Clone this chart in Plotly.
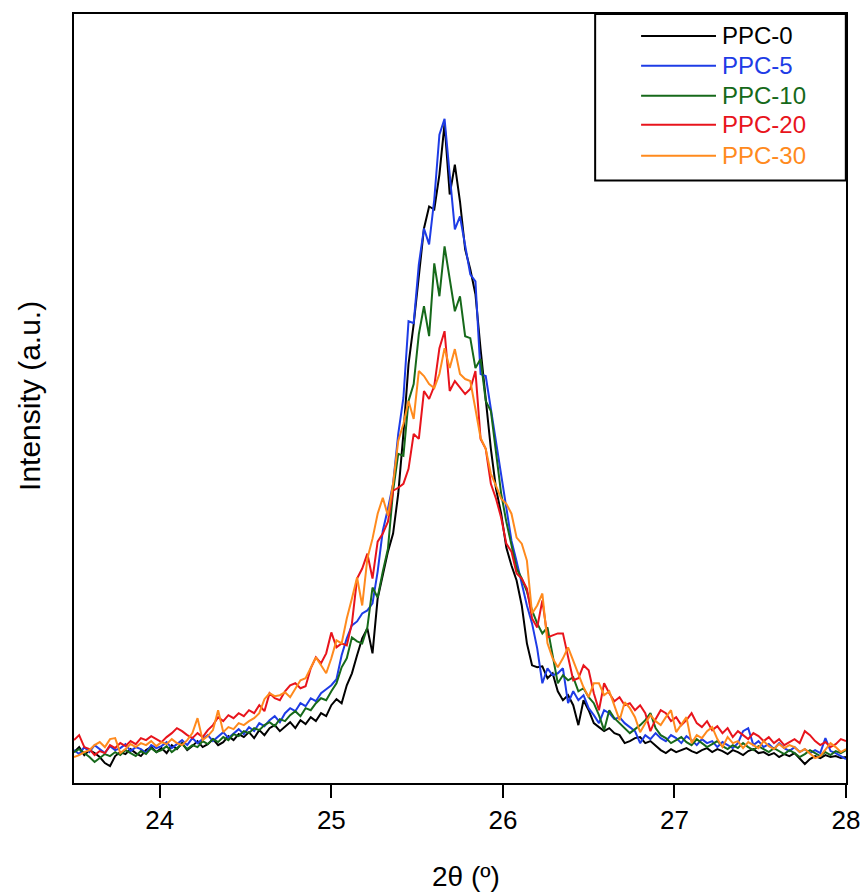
import plotly.graph_objects as go

# 2-theta grid (degrees)
two_theta = [round(23.5 + 0.03 * i, 2) for i in range(151)]

ppc0 = [31, 36, 28, 33, 30, 26, 20, 17, 27, 31, 29, 34, 30, 27, 33, 36, 31,
        35, 30, 38, 34, 40, 33, 37, 42, 36, 39, 44, 38, 41, 47, 43, 49, 46,
        51, 45, 53, 48, 55, 58, 52, 57, 61, 55, 63, 59, 66, 62, 70, 67,
        78, 84, 80, 98, 110, 128, 145, 155, 130, 185, 210, 232, 250, 290, 350, 420, 460,
        508, 556, 578, 575, 610, 661, 590, 620, 583, 535, 515, 490, 435, 385, 335, 295,
        270, 236, 218, 203, 178, 140, 118, 116, 117, 105, 110, 92, 83, 88, 78, 58, 83,
        73, 60, 56, 52, 55, 50, 48, 40, 42, 45, 46, 40, 42, 37, 33, 30, 34, 31, 33, 35,
        32, 30, 33, 35, 31, 34, 32, 29, 33, 31, 28, 32, 34, 30, 31, 28, 30, 26, 29, 27,
        30, 25, 19, 24, 27, 25, 28, 26, 27, 25, 26]

ppc5 = [33, 29, 36, 31, 38, 34, 30, 37, 33, 35, 39, 32, 36, 34, 30, 38, 35,
        37, 41, 35, 39, 43, 38, 45, 40, 44, 48, 42, 47, 51, 45, 50, 54, 49,
        56, 52, 60, 57, 63, 67, 61, 70, 75, 72, 80, 77, 85, 82, 90, 94,
        98, 104, 128, 145, 158, 162, 170, 173, 180, 212, 253, 275, 300, 350, 386, 463, 461,
        520, 556, 540, 585, 650, 666, 610, 555, 568, 540, 510, 503, 410, 408, 375, 340,
        306, 272, 243, 222, 200, 178, 160, 135, 100, 115, 108, 110, 115, 80, 92, 83, 88,
        75, 68, 60, 73, 70, 64, 66, 60, 56, 52, 40, 48, 44, 50, 45, 42, 48, 45, 40, 47,
        43, 38, 44, 40, 42, 36, 41, 38, 35, 40, 52, 55, 38, 42, 36, 39, 34, 40, 35, 32,
        36, 31, 34, 30, 33, 30, 45, 32, 30, 27, 24]

ppc10 = [31, 34, 30, 26, 21, 25, 29, 27, 31, 28, 33, 30, 27, 32, 29, 35, 31,
         33, 37, 31, 35, 39, 34, 38, 36, 42, 39, 44, 41, 46, 43, 49, 47, 52,
         50, 55, 53, 58, 61, 57, 64, 62, 68, 72, 67, 75, 73, 80, 85, 83,
         92, 100, 116, 125, 146, 142, 140, 156, 196, 186, 212, 235, 293, 330, 328, 383, 400,
         450, 478, 448, 521, 488, 538, 505, 473, 488, 448, 446, 416, 425, 383, 373, 330,
         290, 262, 240, 215, 205, 192, 173, 160, 150, 156, 128, 100, 108, 103, 106, 92, 95,
         86, 80, 68, 53, 73, 65, 60, 56, 50, 54, 58, 63, 70, 55, 48, 45, 40, 43, 46, 41,
         38, 44, 40, 36, 39, 42, 37, 34, 38, 35, 40, 36, 33, 37, 34, 31, 35, 32, 29, 33,
         30, 26, 29, 33, 30, 27, 31, 28, 32, 30, 33]

ppc20 = [43, 48, 36, 34, 28, 32, 30, 38, 35, 40, 37, 42, 39, 45, 43, 47, 44,
         41, 46, 50, 55, 52, 48, 45, 50, 46, 53, 58, 66, 62, 68, 65, 70, 67,
         73, 70, 78, 72, 90, 85, 83, 92, 98, 100, 95, 97, 115, 126, 120, 130,
         151, 136, 140, 138, 160, 205, 215, 230, 205, 242, 250, 262, 293, 296, 300, 315, 350,
         345, 393, 385, 398, 436, 453, 393, 403, 396, 390, 395, 413, 345, 335, 300, 285,
         266, 240, 232, 210, 205, 195, 165, 156, 183, 146, 148, 150, 150, 128, 103, 105, 118,
         113, 90, 73, 100, 90, 82, 86, 78, 80, 73, 78, 70, 52, 64, 73, 70, 62, 66, 58, 63,
         70, 60, 56, 62, 53, 57, 50, 55, 46, 52, 48, 44, 50, 47, 42, 46, 40, 44, 38, 41,
         44, 40, 52, 48, 42, 38, 41, 36, 39, 44, 42]

ppc30 = [26, 28, 31, 33, 38, 41, 36, 44, 45, 30, 34, 39, 36, 40, 38, 42, 37,
         41, 39, 44, 40, 38, 43, 50, 65, 43, 47, 53, 73, 51, 56, 54, 60, 58,
         62, 65, 70, 84, 90, 87, 88, 91, 86, 95, 103, 105, 116, 126, 118, 110,
         125, 143, 140, 165, 185, 206, 178, 225, 245, 270, 286, 268, 300, 343, 360, 383, 365,
         413, 408, 400, 396, 410, 436, 416, 435, 410, 405, 403, 375, 346, 335, 310, 298,
         285, 280, 270, 246, 240, 223, 170, 178, 190, 140, 125, 116, 125, 136, 123, 110, 96,
         86, 100, 100, 88, 92, 78, 63, 81, 75, 66, 51, 60, 68, 62, 58, 66, 73, 51, 58, 66,
         40, 48, 45, 52, 56, 44, 36, 46, 40, 42, 35, 41, 38, 35, 42, 37, 34, 39, 35, 38,
         36, 31, 34, 29, 25, 27, 33, 40, 36, 31, 34]

series_names = ["PPC-0", "PPC-5", "PPC-10", "PPC-20", "PPC-30"]
series_values = [ppc0, ppc5, ppc10, ppc20, ppc30]
series_colors = ["#000000", "#1E3CE6", "#16691A", "#E8141C", "#FF8A1D"]

x_ticks = [24, 25, 26, 27, 28]

fig = go.Figure()
for name, vals, col in zip(series_names, series_values, series_colors):
    fig.add_trace(go.Scatter(x=two_theta, y=vals, mode="lines", name=name,
                             line=dict(color=col, width=2), showlegend=False))

FONT = "Liberation Sans, Arial, sans-serif"
# target layout in screen pixels
REF_W = 862
W, H = 872, 895
KX = W / REF_W
SL, SR, ST, SB = 73, 846, 12, 783  # plot area in screen px
L = round(SL * KX)
R = W - round(SR * KX)
T, B = ST, H - SB
pw, ph = W - L - R, H - T - B

def px2paper(px, py):
    return (px * KX - L) / pw, (H - B - py) / ph

shapes = []
annotations = []
# legend box
x0, y0 = px2paper(595, 179)
x1, y1 = px2paper(846, 12)
shapes.append(dict(type="rect", xref="paper", yref="paper", x0=x0, y0=y0, x1=x1, y1=y1,
                   line=dict(color="black", width=2), fillcolor="white", layer="above"))
leg_y = [34, 64, 94, 123, 154]
for name, col, ly in zip(series_names, series_colors, leg_y):
    a0, b0 = px2paper(641, ly)
    a1, _ = px2paper(716, ly)
    shapes.append(dict(type="line", xref="paper", yref="paper", x0=a0, x1=a1, y0=b0, y1=b0,
                       line=dict(color=col, width=2), layer="above"))
    tx, _ = px2paper(720, ly)
    annotations.append(dict(xref="paper", yref="paper", x=tx, y=b0, text=name, showarrow=False,
                            xanchor="left", yanchor="middle", font=dict(family=FONT, size=24, color=col)))

# axis titles
ax, ay = px2paper(28, 395)
annotations.append(dict(xref="paper", yref="paper", x=ax, y=ay, text="Intensity (a.u.)", textangle=-90,
                        showarrow=False, xanchor="center", yanchor="middle",
                        font=dict(family=FONT, size=30, color="black")))
bx, by = px2paper(466, 877)
annotations.append(dict(xref="paper", yref="paper", x=bx, y=by, text="2θ (º)", showarrow=False,
                        xanchor="center", yanchor="middle", font=dict(family=FONT, size=28, color="black")))

fig.update_layout(
    width=W, height=H, autosize=False,
    margin=dict(l=L, r=R, t=T, b=B, pad=0),
    paper_bgcolor="white", plot_bgcolor="white",
    shapes=shapes, annotations=annotations,
    showlegend=False,
)
fig.update_xaxes(range=[23.5, 28], tickvals=x_ticks, ticktext=[str(t) for t in x_ticks],
                 ticks="outside", ticklen=13, tickwidth=2, tickcolor="black",
                 showline=True, linewidth=2, linecolor="black", mirror=True,
                 showgrid=False, zeroline=False,
                 tickfont=dict(family=FONT, size=26, color="black"))
fig.update_yaxes(range=[0, 771], showticklabels=False, ticks="",
                 showline=True, linewidth=2, linecolor="black", mirror=True,
                 showgrid=False, zeroline=False)

fig.write_html("out.html",
               config={"responsive": False, "displayModeBar": False},
               post_script="document.body.style.margin='0';document.body.style.overflow='hidden';")
